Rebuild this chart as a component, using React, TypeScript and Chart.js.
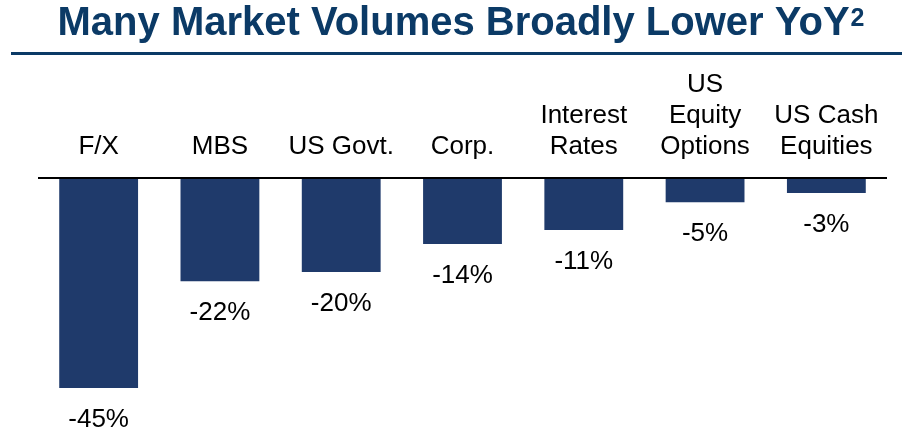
import React, { useEffect, useRef } from "react";
import { Chart, registerables } from "chart.js";

Chart.register(...registerables);

const TITLE = "Many Market Volumes Broadly Lower YoY";
const TITLE_SUP = "2";
const categories: string[][] = [
  ["F/X"],
  ["MBS"],
  ["US Govt."],
  ["Corp."],
  ["Interest", "Rates"],
  ["US", "Equity", "Options"],
  ["US Cash", "Equities"],
];
const values: number[] = [-45, -22, -20, -14, -11, -5, -3];
const valueLabels: string[] = ["-45%", "-22%", "-20%", "-14%", "-11%", "-5%", "-3%"];

const BAR_COLOR = "#1f3a6b";
const TITLE_COLOR = "#0b3a66";
const FONT = '"Liberation Sans", Arial, sans-serif';

const labelsPlugin = {
  id: "customLabels",
  afterDatasetsDraw(chart: any) {
    const ctx = chart.ctx as CanvasRenderingContext2D;
    const area = chart.chartArea;
    const yScale = chart.scales.y;
    const zeroY = yScale.getPixelForValue(0);
    const meta = chart.getDatasetMeta(0);
    ctx.save();
    // zero line
    ctx.strokeStyle = "#000";
    ctx.lineWidth = 2;
    ctx.beginPath();
    ctx.moveTo(area.left, zeroY - 1);
    ctx.lineTo(area.right, zeroY - 1);
    ctx.stroke();
    // category labels
    ctx.fillStyle = "#000";
    ctx.font = `26px ${FONT}`;
    ctx.textAlign = "center";
    ctx.textBaseline = "middle";
    const lineH = 31;
    meta.data.forEach((bar: any, i: number) => {
      const lines = categories[i];
      const n = lines.length;
      lines.forEach((ln, j) => {
        const y = zeroY - 32 - (n - 1 - j) * lineH;
        ctx.fillText(ln, bar.x, y);
      });
      // value labels
      const bottom = yScale.getPixelForValue(values[i]);
      ctx.fillText(valueLabels[i], bar.x, bottom + 32);
    });
    ctx.restore();
  },
  afterDraw(chart: any) {
    const ctx = chart.ctx as CanvasRenderingContext2D;
    ctx.save();
    ctx.fillStyle = TITLE_COLOR;
    ctx.font = `bold 40px ${FONT}`;
    ctx.textBaseline = "alphabetic";
    ctx.textAlign = "left";
    const w = ctx.measureText(TITLE).width;
    ctx.font = `bold 25px ${FONT}`;
    const sw = ctx.measureText(TITLE_SUP).width;
    const total = w + sw + 1;
    const cx = 461;
    const x0 = cx - total / 2;
    ctx.font = `bold 40px ${FONT}`;
    ctx.fillText(TITLE, x0, 35);
    ctx.font = `bold 25px ${FONT}`;
    ctx.fillText(TITLE_SUP, x0 + w + 1, 26);
    // underline rule
    ctx.fillStyle = TITLE_COLOR;
    ctx.fillRect(11, 52, 902 - 11, 3);
    ctx.restore();
  },
};

export default function App() {
  const ref = useRef<HTMLCanvasElement | null>(null);
  useEffect(() => {
    if (!ref.current) return;
    const chart = new Chart(ref.current, {
      type: "bar",
      data: {
        labels: categories.map((c) => c.join(" ")),
        datasets: [
          {
            data: values,
            backgroundColor: BAR_COLOR,
            borderWidth: 0,
            categoryPercentage: 0.65,
            barPercentage: 1,
          },
        ],
      },
      options: {
        responsive: false,
        animation: false,
        layout: { padding: { top: 179, bottom: 48, left: 38, right: 15 } },
        plugins: {
          legend: { display: false },
          tooltip: { enabled: false },
          title: { display: false },
        },
        scales: {
          x: { display: false },
          y: { display: false, min: -45, max: 0 },
        },
      },
      plugins: [labelsPlugin],
    });
    return () => chart.destroy();
  }, []);
  return (
    <div style={{ position: "fixed", left: 0, top: 0, width: 902, height: 436, background: "#fff" }}>
      <canvas ref={ref} width={902} height={436} style={{ display: "block" }} />
    </div>
  );
}
